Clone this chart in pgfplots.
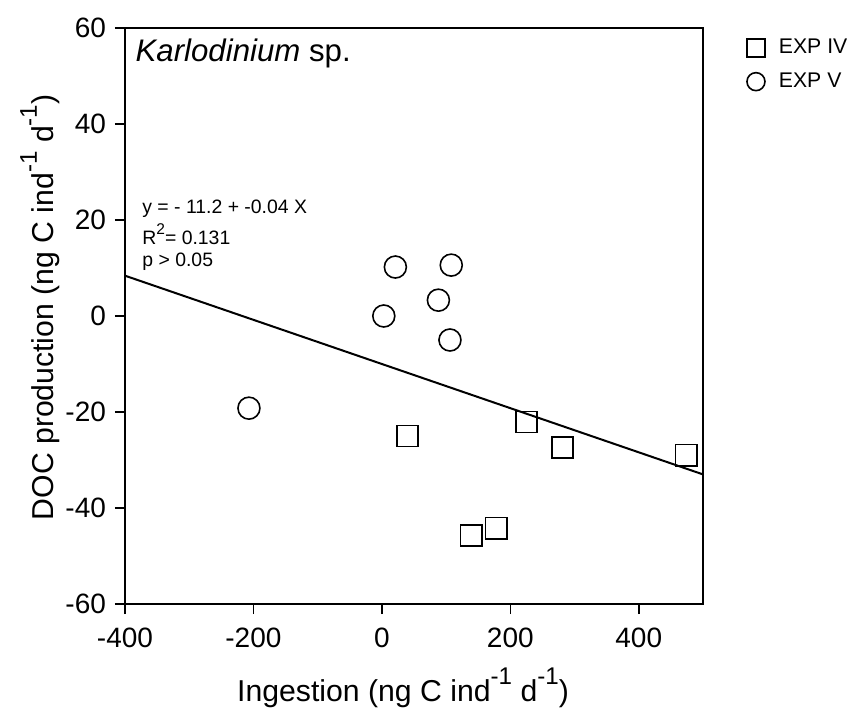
\documentclass[border=0pt]{standalone}
\usepackage{fontspec}
\setmainfont{Liberation Sans}
\usepackage{pgfplots}
\pgfplotsset{compat=1.18}
\newcommand\sups[1]{\raisebox{1.05ex}{\scalebox{0.8}{#1}}}
\begin{document}
\begin{tikzpicture}[x=1pt,y=1pt]
\path[use as bounding box] (-62.5,-52.5) rectangle (371,302);
\begin{axis}[
 at={(0,0)}, anchor=south west, scale only axis, width=289pt, height=288pt,
 xmin=-400, xmax=500, ymin=-60, ymax=60,
 xtick={-400,-200,...,400}, ytick={-60,-40,...,60},
 xticklabels={-400,-200,0,200,400}, yticklabels={-60,-40,-20,0,20,40,60},
 tick align=outside, xtick pos=bottom, ytick pos=left, major tick length=5pt,
 axis line style={line width=1.2pt},
 every tick/.style={black, line width=0.8pt},
 ticklabel style={font=\fontsize{14}{16}\selectfont},
 xticklabel style={yshift=-3.5pt},
 yticklabel style={xshift=-1pt},
 xlabel={Ingestion (ng C ind\sups{-1} d\sups{-1})},
 ylabel={DOC production (ng C ind\sups{-1} d\sups{-1})},
 every axis x label/.style={at={(axis description cs:0.481,-0.146)}, anchor=center, font=\fontsize{15.1}{18}\selectfont},
 every axis y label/.style={at={(axis description cs:-0.147,0.515)}, rotate=90, anchor=center, font=\fontsize{15.1}{18}\selectfont},
 legend style={at={(axis description cs:1.065,0.995)}, anchor=north west, draw=none, fill=none,
   font=\fontsize{10.6}{12}\selectfont, row sep=4pt, column sep=5pt},
 legend image post style={mark size=4.5pt},
 legend cell align=left,
 clip=false,
]
\addplot[black, line width=1pt, forget plot] coordinates {(-400,8.4) (500,-33)};
\addplot[only marks, mark=square, mark size=5.3pt, mark options={line width=0.8pt, black, fill=none}]
 coordinates {(40,-25) (139,-45.7) (178,-44.2) (225,-22.1) (281,-27.4) (474,-29)};
\addlegendentry{EXP IV}
\addplot[only marks, mark=o, mark size=5.5pt, mark options={line width=0.8pt, black, fill=none}]
 coordinates {(-207,-19.2) (3,0) (21,10.2) (108,10.6) (88,3.3) (106,-5)};
\addlegendentry{EXP V}
\node[anchor=base west, inner sep=0pt, font=\fontsize{15.6}{18}\selectfont] at (axis cs:-384,53) {\itshape Karlodinium\upshape{} sp.};
\node[anchor=base west, inner sep=0pt, font=\fontsize{9.7}{11}\selectfont] at (axis cs:-373.5,21.4) {y = - 11.2 + -0.04 X};
\node[anchor=base west, inner sep=0pt, font=\fontsize{9.7}{11}\selectfont] at (axis cs:-373.5,14.8) {R\sups{2}= 0.131};
\node[anchor=base west, inner sep=0pt, font=\fontsize{9.7}{11}\selectfont] at (axis cs:-373.5,10.3) {p > 0.05};
\end{axis}
\end{tikzpicture}
\end{document}
